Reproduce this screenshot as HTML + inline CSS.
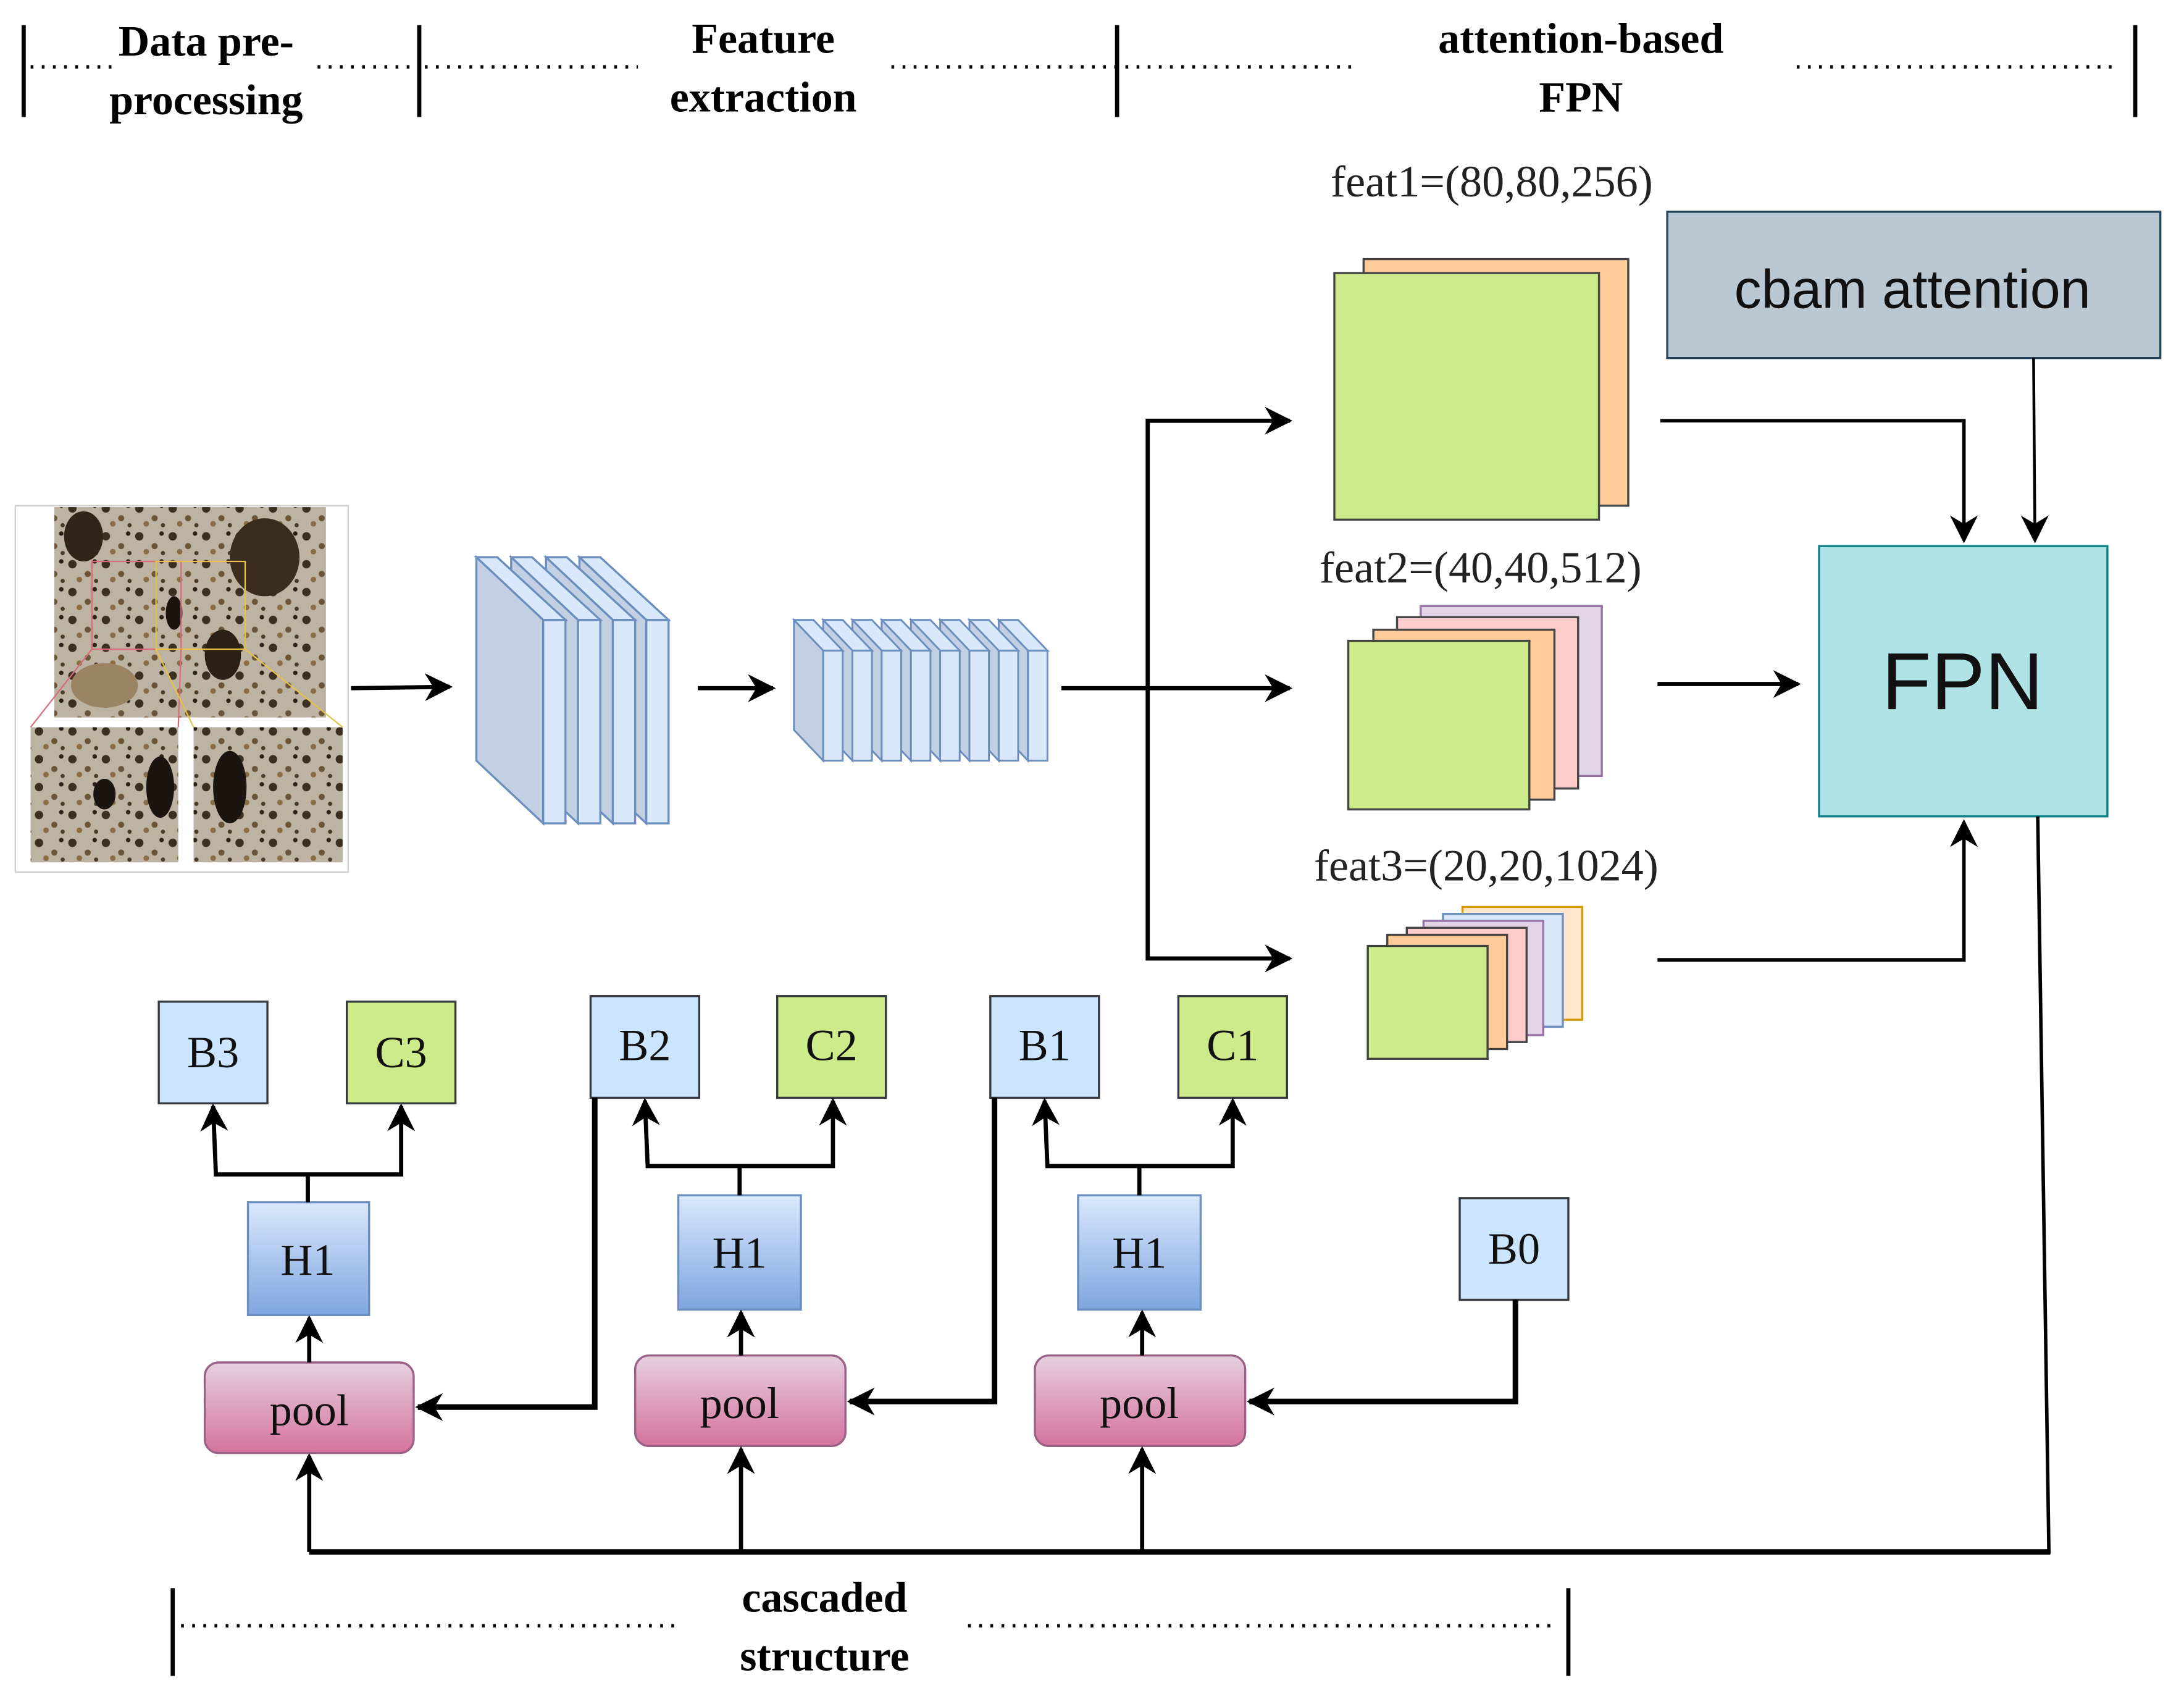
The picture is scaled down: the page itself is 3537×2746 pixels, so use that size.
<!DOCTYPE html>
<html><head><meta charset="utf-8"><style>
html,body{margin:0;padding:0;background:#fff;}
svg{display:block;}
.hd{font-family:"Liberation Serif",serif;font-weight:bold;font-size:31px;fill:#000;text-anchor:middle;}
.lb{font-family:"Liberation Serif",serif;font-size:32px;fill:#222;text-anchor:middle;}
.bx{font-family:"Liberation Serif",serif;font-size:32px;fill:#111;text-anchor:middle;}
</style></head><body>
<svg width="3537" height="2746" viewBox="0 0 1568 1217.4" preserveAspectRatio="none" xmlns="http://www.w3.org/2000/svg">
<defs>
<marker id="a3" viewBox="0 0 10 10" refX="9" refY="5" markerWidth="20" markerHeight="20" orient="auto-start-reverse" markerUnits="userSpaceOnUse">
<path d="M0,0 L10,5 L0,10 L3,5 z" fill="#000"/></marker>
<linearGradient id="gh" x1="0" y1="0" x2="0" y2="1"><stop offset="0" stop-color="#dae8fc"/><stop offset="1" stop-color="#7ea6e0"/></linearGradient>
<linearGradient id="gp" x1="0" y1="0" x2="0" y2="1"><stop offset="0" stop-color="#e6d0de"/><stop offset="1" stop-color="#d5739d"/></linearGradient>
<pattern id="ph" width="24" height="20" patternUnits="userSpaceOnUse">
<rect width="24" height="20" fill="#bdb3a3"/>
<circle cx="4" cy="5" r="3" fill="#3b2f22"/><circle cx="15" cy="12" r="2.2" fill="#6b5538"/><circle cx="20" cy="3" r="1.6" fill="#2a2118"/><circle cx="9" cy="16" r="2" fill="#8a6d45"/><circle cx="21" cy="17" r="1.5" fill="#4a3a28"/>
</pattern>
</defs>

<g stroke="#000" stroke-width="3">
<line x1="17" y1="18" x2="17" y2="84"/><line x1="301" y1="18" x2="301" y2="84"/>
<line x1="802" y1="18" x2="802" y2="84"/><line x1="1533" y1="18" x2="1533" y2="84"/>
<line x1="124" y1="1140" x2="124" y2="1203"/><line x1="1126" y1="1140" x2="1126" y2="1203"/>
</g>
<g stroke="#000" stroke-width="2.5" stroke-dasharray="2 6">
<line x1="22" y1="48" x2="80" y2="48"/><line x1="228" y1="48" x2="298" y2="48"/>
<line x1="305" y1="48" x2="458" y2="48"/><line x1="640" y1="48" x2="975" y2="48"/>
<line x1="1290" y1="48" x2="1520" y2="48"/>
<line x1="130" y1="1167" x2="490" y2="1167"/><line x1="695" y1="1167" x2="1115" y2="1167"/>
</g>
<text class="hd" x="148" y="40">Data pre-</text><text class="hd" x="148" y="82">processing</text>
<text class="hd" x="548" y="38">Feature</text><text class="hd" x="548" y="80">extraction</text>
<text class="hd" x="1135" y="38">attention-based</text><text class="hd" x="1135" y="80">FPN</text>
<text class="hd" x="592" y="1157">cascaded</text><text class="hd" x="592" y="1199">structure</text>

<rect x="11" y="363" width="239" height="263" fill="#fff" stroke="#ccc" stroke-width="1"/>
<rect x="39" y="364" width="195" height="151" fill="url(#ph)"/>
<ellipse cx="60" cy="385" rx="14" ry="18" fill="#2f2619"/><ellipse cx="190" cy="400" rx="25" ry="28" fill="#3a2d1d"/>
<ellipse cx="160" cy="470" rx="13" ry="18" fill="#2a2016"/><ellipse cx="75" cy="492" rx="24" ry="16" fill="#9b8464"/>
<ellipse cx="125" cy="440" rx="6" ry="12" fill="#1a1510"/>
<rect x="66" y="403" width="64" height="63" fill="none" stroke="#d96b7a" stroke-width="1"/>
<rect x="112" y="403" width="64" height="63" fill="none" stroke="#e6c24a" stroke-width="1"/>
<line x1="66" y1="466" x2="22" y2="522" stroke="#d96b7a"/><line x1="130" y1="466" x2="128" y2="522" stroke="#d96b7a"/>
<line x1="112" y1="466" x2="139" y2="522" stroke="#e6c24a"/><line x1="176" y1="466" x2="246" y2="522" stroke="#e6c24a"/>
<rect x="22" y="522" width="106" height="97" fill="url(#ph)"/><rect x="139" y="522" width="107" height="97" fill="url(#ph)"/>
<ellipse cx="115" cy="565" rx="10" ry="22" fill="#1a1510"/><ellipse cx="165" cy="565" rx="12" ry="26" fill="#1a1510"/>
<ellipse cx="75" cy="570" rx="8" ry="11" fill="#1a1510"/>

<g stroke="#6c8ebf" stroke-width="1.5">
<g><polygon points="416,400 431,400 480,445 464,445" fill="#dae8fc"/><polygon points="416,400 464,445 464,591 416,546" fill="#c3d0e3"/><rect x="464" y="445" width="16" height="146" fill="#dae8fc"/></g>
<g><polygon points="392,400 407,400 456,445 440,445" fill="#dae8fc"/><polygon points="392,400 440,445 440,591 392,546" fill="#c3d0e3"/><rect x="440" y="445" width="16" height="146" fill="#dae8fc"/></g>
<g><polygon points="367,400 382,400 431,445 415,445" fill="#dae8fc"/><polygon points="367,400 415,445 415,591 367,546" fill="#c3d0e3"/><rect x="415" y="445" width="16" height="146" fill="#dae8fc"/></g>
<g><polygon points="342,400 357,400 406,445 390,445" fill="#dae8fc"/><polygon points="342,400 390,445 390,591 342,546" fill="#c3d0e3"/><rect x="390" y="445" width="16" height="146" fill="#dae8fc"/></g>
</g>
<g stroke="#6c8ebf" stroke-width="1.3">
<g transform="translate(147,0)"><polygon points="570,445 584,445 605,467 591,467" fill="#dae8fc"/><polygon points="570,445 591,467 591,546 570,524" fill="#c3d0e3"/><rect x="591" y="467" width="14" height="79" fill="#dae8fc"/></g>
<g transform="translate(126,0)"><polygon points="570,445 584,445 605,467 591,467" fill="#dae8fc"/><polygon points="570,445 591,467 591,546 570,524" fill="#c3d0e3"/><rect x="591" y="467" width="14" height="79" fill="#dae8fc"/></g>
<g transform="translate(105,0)"><polygon points="570,445 584,445 605,467 591,467" fill="#dae8fc"/><polygon points="570,445 591,467 591,546 570,524" fill="#c3d0e3"/><rect x="591" y="467" width="14" height="79" fill="#dae8fc"/></g>
<g transform="translate(84,0)"><polygon points="570,445 584,445 605,467 591,467" fill="#dae8fc"/><polygon points="570,445 591,467 591,546 570,524" fill="#c3d0e3"/><rect x="591" y="467" width="14" height="79" fill="#dae8fc"/></g>
<g transform="translate(63,0)"><polygon points="570,445 584,445 605,467 591,467" fill="#dae8fc"/><polygon points="570,445 591,467 591,546 570,524" fill="#c3d0e3"/><rect x="591" y="467" width="14" height="79" fill="#dae8fc"/></g>
<g transform="translate(42,0)"><polygon points="570,445 584,445 605,467 591,467" fill="#dae8fc"/><polygon points="570,445 591,467 591,546 570,524" fill="#c3d0e3"/><rect x="591" y="467" width="14" height="79" fill="#dae8fc"/></g>
<g transform="translate(21,0)"><polygon points="570,445 584,445 605,467 591,467" fill="#dae8fc"/><polygon points="570,445 591,467 591,546 570,524" fill="#c3d0e3"/><rect x="591" y="467" width="14" height="79" fill="#dae8fc"/></g>
<g><polygon points="570,445 584,445 605,467 591,467" fill="#dae8fc"/><polygon points="570,445 591,467 591,546 570,524" fill="#c3d0e3"/><rect x="591" y="467" width="14" height="79" fill="#dae8fc"/></g>
</g>

<text class="lb" x="1071" y="141">feat1=(80,80,256)</text>
<rect x="979" y="186" width="190" height="177" fill="#ffcc99" stroke="#444" stroke-width="1.5"/>
<rect x="958" y="196" width="190" height="177" fill="#cdeb8b" stroke="#444" stroke-width="1.5"/>
<text class="lb" x="1063" y="418">feat2=(40,40,512)</text>
<rect x="1020" y="435" width="130" height="122" fill="#e1d5e7" stroke="#9673a6" stroke-width="1.5"/>
<rect x="1003" y="443" width="130" height="123" fill="#ffcccc" stroke="#444" stroke-width="1.5"/>
<rect x="986" y="452" width="130" height="122" fill="#ffcc99" stroke="#444" stroke-width="1.5"/>
<rect x="968" y="460" width="130" height="121" fill="#cdeb8b" stroke="#444" stroke-width="1.5"/>
<text class="lb" x="1067" y="632">feat3=(20,20,1024)</text>
<rect x="1050" y="651" width="86" height="81" fill="#ffe6cc" stroke="#d79b00" stroke-width="1.5"/>
<rect x="1036" y="656" width="86" height="81" fill="#dae8fc" stroke="#6c8ebf" stroke-width="1.5"/>
<rect x="1022" y="661" width="86" height="82" fill="#e1d5e7" stroke="#9673a6" stroke-width="1.5"/>
<rect x="1010" y="666" width="86" height="82" fill="#ffcccc" stroke="#444" stroke-width="1.5"/>
<rect x="996" y="671" width="86" height="82" fill="#ffcc99" stroke="#444" stroke-width="1.5"/>
<rect x="982" y="679" width="86" height="81" fill="#cdeb8b" stroke="#444" stroke-width="1.5"/>

<rect x="1197" y="152" width="354" height="105" fill="#bac8d3" stroke="#23445d" stroke-width="1.5"/>
<text x="1373" y="221" font-family="Liberation Sans,sans-serif" font-size="39" text-anchor="middle" fill="#111">cbam attention</text>
<rect x="1306" y="392" width="207" height="194" fill="#b0e3e6" stroke="#0e8088" stroke-width="1.5"/>
<text x="1409" y="509" font-family="Liberation Sans,sans-serif" font-size="58" text-anchor="middle" fill="#111">FPN</text>

<g fill="none" stroke="#000" stroke-width="3">
<line x1="252" y1="494" x2="323" y2="493" marker-end="url(#a3)"/>
<line x1="501" y1="494" x2="555" y2="494" marker-end="url(#a3)"/>
<line x1="762" y1="494" x2="926" y2="494" marker-end="url(#a3)"/>
<polyline points="926,302 824,302 824,688 926,688" marker-start="url(#a3)" marker-end="url(#a3)"/>
<polyline points="1192,302 1410,302 1410,388" stroke-width="2.5" marker-end="url(#a3)"/>
<line x1="1190" y1="491" x2="1291" y2="491" marker-end="url(#a3)"/>
<polyline points="1190,689 1410,689 1410,590" stroke-width="2.5" marker-end="url(#a3)"/>
</g>
<line x1="1460" y1="257" x2="1461" y2="388" stroke="#000" stroke-width="2" marker-end="url(#a3)"/>
<polyline points="1463,586 1471,1114 222,1114" fill="none" stroke="#000" stroke-width="2.5"/>
<line x1="222" y1="1114" x2="1472" y2="1114" stroke="#000" stroke-width="4"/>

<g stroke="#36393d" stroke-width="1.5">
<rect x="114" y="719" width="78" height="73" fill="#cce5ff"/><rect x="249" y="719" width="78" height="73" fill="#cdeb8b"/>
<rect x="424" y="715" width="78" height="73" fill="#cce5ff"/><rect x="558" y="715" width="78" height="73" fill="#cdeb8b"/>
<rect x="711" y="715" width="78" height="73" fill="#cce5ff"/><rect x="846" y="715" width="78" height="73" fill="#cdeb8b"/>
<rect x="1048" y="860" width="78" height="73" fill="#cce5ff"/>
</g>
<g stroke="#6c8ebf" stroke-width="1.5" fill="url(#gh)">
<rect x="178" y="863" width="87" height="81"/><rect x="487" y="858" width="88" height="82"/><rect x="774" y="858" width="88" height="82"/>
</g>
<g stroke="#996185" stroke-width="1.5" fill="url(#gp)">
<rect x="147" y="978" width="150" height="65" rx="10"/><rect x="456" y="973" width="151" height="65" rx="10"/><rect x="743" y="973" width="151" height="65" rx="10"/>
</g>
<text class="bx" x="153" y="766">B3</text><text class="bx" x="288" y="766">C3</text>
<text class="bx" x="463" y="761">B2</text><text class="bx" x="597" y="761">C2</text>
<text class="bx" x="750" y="761">B1</text><text class="bx" x="885" y="761">C1</text>
<text class="bx" x="1087" y="907">B0</text>
<text class="bx" x="221" y="915">H1</text><text class="bx" x="531" y="910">H1</text><text class="bx" x="818" y="910">H1</text>
<text class="bx" x="222" y="1023" font-size="38">pool</text><text class="bx" x="531" y="1018" font-size="38">pool</text><text class="bx" x="818" y="1018" font-size="38">pool</text>

<g fill="none" stroke="#000" stroke-width="3">
<line x1="221" y1="863" x2="221" y2="843"/><polyline points="153,794 155,843 288,843 288,794" marker-start="url(#a3)" marker-end="url(#a3)"/>
<line x1="531" y1="858" x2="531" y2="837"/><polyline points="463,790 465,837 598,837 598,790" marker-start="url(#a3)" marker-end="url(#a3)"/>
<line x1="818" y1="858" x2="818" y2="837"/><polyline points="750,790 752,837 885,837 885,790" marker-start="url(#a3)" marker-end="url(#a3)"/>
<line x1="222" y1="978" x2="222" y2="946" marker-end="url(#a3)"/>
<line x1="532" y1="973" x2="532" y2="942" marker-end="url(#a3)"/>
<line x1="820" y1="973" x2="820" y2="942" marker-end="url(#a3)"/>
<line x1="222" y1="1114" x2="222" y2="1045" marker-end="url(#a3)"/>
<line x1="532" y1="1114" x2="532" y2="1040" marker-end="url(#a3)"/>
<line x1="820" y1="1114" x2="820" y2="1040" marker-end="url(#a3)"/>
<polyline points="427,788 427,1010 300,1010" stroke-width="4" marker-end="url(#a3)"/>
<polyline points="714,788 714,1006 610,1006" stroke-width="4" marker-end="url(#a3)"/>
<polyline points="1088,933 1088,1006 897,1006" stroke-width="4" marker-end="url(#a3)"/>
</g>
</svg>
</body></html>
